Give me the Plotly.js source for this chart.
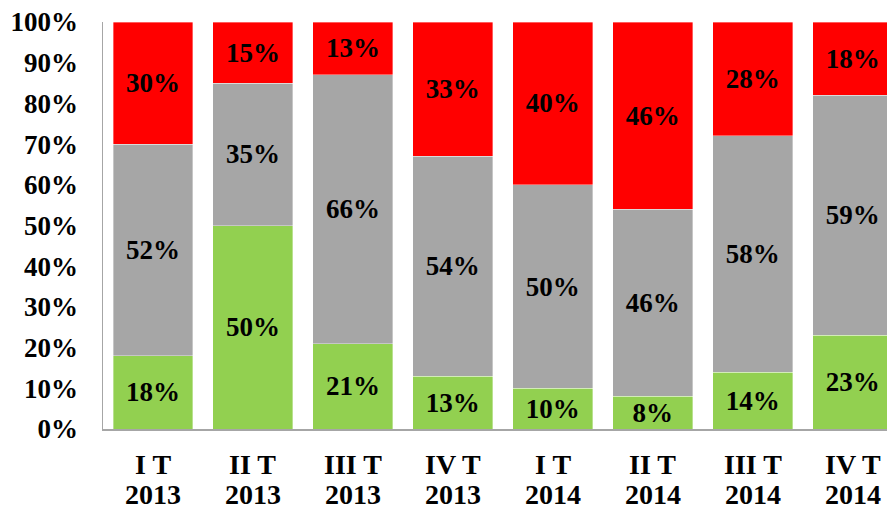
<!DOCTYPE html>
<html>
<head>
<meta charset="utf-8">
<script src="https://cdn.plot.ly/plotly-3.0.1.min.js"></script>
<style>html,body{margin:0;padding:0;background:#fff;}#chart{width:887px;height:511px;}</style>
</head>
<body>
<div id="chart"></div>
<script>
const quarters = ["I T","II T","III T","IV T","I T","II T","III T","IV T"];
const years = ["2013","2013","2013","2013","2014","2014","2014","2014"];
const greenValues = [18, 50, 21, 13, 10, 8, 14, 23];
const grayValues  = [52, 35, 66, 54, 50, 46, 58, 59];
const redValues   = [30, 15, 13, 33, 40, 46, 28, 18];
const yTickValues = [0,10,20,30,40,50,60,70,80,90,100];

const FONT = '"Liberation Serif", "Times New Roman", Times, serif';
const xIdx = quarters.map((c,i)=>i);

function series(vals, color, name){
  return {
    type: 'bar', x: xIdx, y: vals, name: name,
    marker: {color: color, line: {color: 'rgba(255,255,255,0.6)', width: 0.6}},
    text: vals.map(v => v + '%'),
    textposition: 'inside', insidetextanchor: 'middle', textangle: 0,
    constraintext: 'none',
    insidetextfont: {family: FONT, size: 27, color: '#000', weight: 'bold'},
    hoverinfo: 'skip'
  };
}

const data = [
  series(greenValues, '#92D050', 'green'),
  series(grayValues, '#A6A6A6', 'gray'),
  series(redValues, '#FF0000', 'red')
];

const annotations = [];
xIdx.forEach(i => {
  annotations.push({xref: 'x', yref: 'paper', x: i, y: -0.128, yanchor: 'bottom', showarrow: false, borderpad: 0,
    text: quarters[i], font: {family: FONT, size: 28, color: '#000', weight: 'bold'}});
  annotations.push({xref: 'x', yref: 'paper', x: i, y: -0.2015, yanchor: 'bottom', showarrow: false, borderpad: 0,
    text: years[i], font: {family: FONT, size: 28, color: '#000', weight: 'bold'}});
});

const layout = {
  width: 887, height: 511,
  margin: {l: 103, r: 0, t: 22, b: 82, pad: 0},
  barmode: 'stack', bargap: 0.2,
  showlegend: false,
  paper_bgcolor: '#fff', plot_bgcolor: '#fff',
  font: {family: FONT, color: '#000'},
  annotations: annotations,
  xaxis: {
    tickmode: 'array', tickvals: xIdx, showticklabels: false,
    range: [-0.5, 7.343],
    showgrid: false, zeroline: false,
    showline: true, linecolor: '#A6A6A6', linewidth: 1.5,
    ticks: ''
  },
  yaxis: {
    range: [0, 100], tickmode: 'array', tickvals: yTickValues,
    ticktext: yTickValues.map(v => v + '%'),
    showgrid: false, zeroline: false,
    showline: true, linecolor: '#A6A6A6', linewidth: 1.5,
    ticks: '', ticklabelstandoff: 18,
    tickfont: {family: FONT, size: 27, color: '#000', weight: 'bold'}
  }
};

Plotly.newPlot('chart', data, layout, {displayModeBar: false, staticPlot: true});
</script>
</body>
</html>
